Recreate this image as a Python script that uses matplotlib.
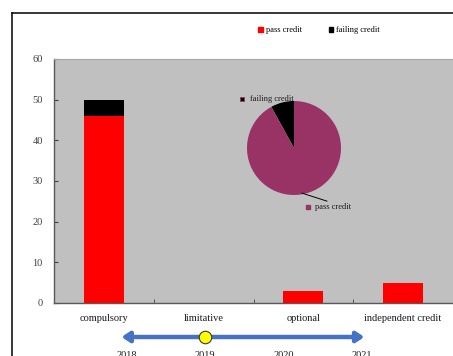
import matplotlib
matplotlib.use("Agg")
import matplotlib.pyplot as plt
from matplotlib.patches import Patch
from matplotlib.lines import Line2D

plt.rcParams['font.family'] = ['Liberation Serif', 'DejaVu Serif']

categories = ["compulsory", "limitative", "optional", "independent credit"]
pass_credit = [46, 0, 3, 5]
failing_credit = [4, 0, 0, 0]
pie_labels = ["failing credit", "pass credit"]
pie_values = [4, 46]
years = [2018, 2019, 2020, 2021]
highlight_year = 2019

W, H = 453, 356
fig = plt.figure(figsize=(W / 100, H / 100), dpi=100)

def fx(px):
    return px / W

def fy(py):
    return 1 - py / H

# outer border lines
fig.add_artist(Line2D([fx(12), fx(12)], [0, fy(13)], color='black', lw=1.1))
fig.add_artist(Line2D([fx(12), 1], [fy(13), fy(13)], color='black', lw=1.1))

# main axes
ax = fig.add_axes([fx(54), fy(303), 1.0 - fx(54), fy(59) - fy(303)])
ax.set_facecolor('#C0C0C0')
xs = list(range(len(categories)))
ax.bar(xs, pass_credit, width=0.4, color='#FF0000', zorder=3)
ax.bar(xs, failing_credit, width=0.4, bottom=pass_credit, color='#000000', zorder=3)
ax.set_xlim(-0.5, len(categories) - 0.5)
ax.set_ylim(0, 60)
ax.set_yticks(range(0, 61, 10))
ax.set_xticks(xs)
ax.set_xticklabels(categories, fontsize=7.5, color='#1a1a1a')
ax.tick_params(axis='x', which='major', length=0, pad=8)
ax.set_xticks([i + 0.5 for i in xs[:-1]], minor=True)
ax.tick_params(axis='x', which='minor', direction='in', length=3, color='#404040')
ax.tick_params(axis='y', direction='in', length=3, color='#404040', labelsize=7.5,
               labelcolor='#404040', pad=8)
for s in ['left', 'bottom']:
    ax.spines[s].set_color('#595959')
    ax.spines[s].set_linewidth(1.0)
ax.spines['top'].set_color('#A6A6A6')
ax.spines['top'].set_linewidth(0.8)
ax.spines['right'].set_visible(False)

# legend
handles = [Patch(color='#FF0000', label='pass credit'),
           Patch(color='#000000', label='failing credit')]
fig.legend(handles=handles, loc='center', bbox_to_anchor=(fx(319), fy(30)), ncol=2,
           frameon=False, fontsize=6, handlelength=0.55, handleheight=0.55,
           handletextpad=0.4, columnspacing=3.2)

# pie inset
r = 47
cx, cy = 294, 148
pax = fig.add_axes([fx(cx - r), fy(cy + r), 2 * r / W, 2 * r / H])
pax.pie(pie_values, colors=['#000000', '#993366'], startangle=90, counterclock=True,
        radius=1.0)
pax.set_xlim(-1, 1)
pax.set_ylim(-1, 1)
pax.set_aspect('auto')
pax.axis('off')
pax.plot([-1.106], [1.04], marker='s', ms=3, color='#000000', mec='#993366', mew=0.6,
         clip_on=False)
pax.text(-0.94, 1.04, pie_labels[0], fontsize=6, va='center', ha='left', color='#1a1a1a',
         clip_on=False)
pax.plot([0.30], [-1.255], marker='s', ms=3, color='#993366', clip_on=False)
pax.text(0.45, -1.255, pie_labels[1], fontsize=6, va='center', ha='left', color='#1a1a1a',
         clip_on=False)
pax.plot([0.17, 0.70], [-0.96, -1.13], color='#000000', lw=0.7, clip_on=False)

# timeline
tax = fig.add_axes([fx(127), fy(356), fx(362) - fx(127), fy(318) - fy(356)])
tax.set_xlim(years[0], years[-1])
tax.set_ylim(0, 1)
tax.axis('off')
ty = (356 - 337) / (356 - 318)
tax.annotate('', xy=(years[0] - 0.07, ty), xytext=(years[-1] + 0.03, ty),
             arrowprops=dict(arrowstyle='<|-|>,head_length=0.45,head_width=0.3',
                             color='#4472C4', lw=3.2, shrinkA=0, shrinkB=0),
             annotation_clip=False)
tax.plot([highlight_year], [ty], marker='o', ms=9, color='#FFFF00', mec='#3a3a3a', mew=0.8,
         zorder=5, clip_on=False)
for yr in years:
    tax.text(yr, (356 - 351) / (356 - 318), str(yr), fontsize=7.5, ha='center', va='top',
             color='#1a1a1a', clip_on=False)

fig.savefig('out.png', dpi=100)
